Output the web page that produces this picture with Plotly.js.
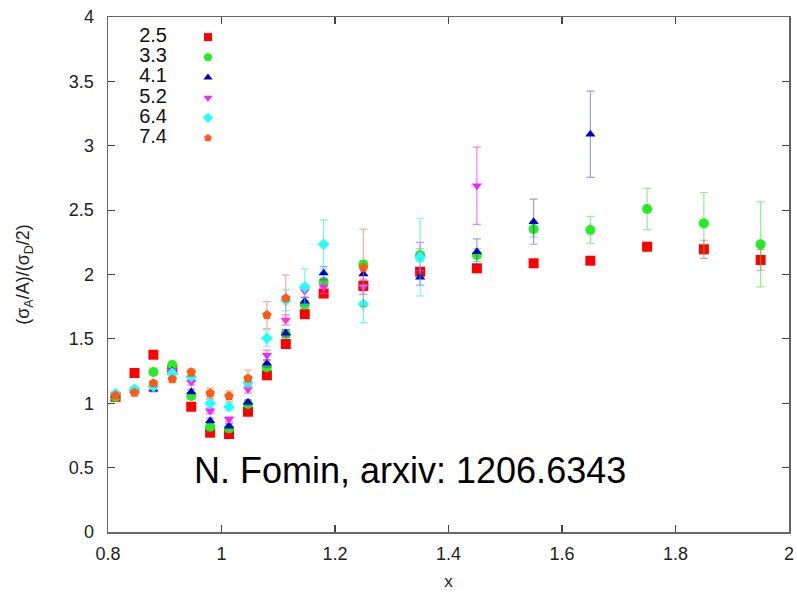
<!DOCTYPE html>
<html>
<head>
<meta charset="utf-8">
<script src="https://cdn.plot.ly/plotly-3.0.1.min.js"></script>
<style>html,body{margin:0;padding:0;background:#fff;}#chart{width:797px;height:595px;}</style>
</head>
<body>
<div id="chart"></div>
<script>
// ---- data ----
const seriesNames = ["2.5", "3.3", "4.1", "5.2", "6.4", "7.4"];

const x25 = [0.8133,0.8467,0.88,0.9133,0.9467,0.98,1.0133,1.0467,1.08,1.1133,1.1467,1.18,1.25,1.35,1.45,1.55,1.65,1.75,1.85,1.95];
const y25 = [1.05,1.235,1.377,1.258,0.973,0.771,0.761,0.934,1.217,1.46,1.692,1.852,1.911,2.022,2.048,2.087,2.107,2.216,2.196,2.113];
const e25 = [0.02,0.02,0.02,0.02,0.02,0.02,0.02,0.02,0.02,0.02,0.02,0.02,0.03,0.03,0.02,0.02,0.02,0.03,0.07,0.08];

const x33 = [0.8133,0.8467,0.88,0.9133,0.9467,0.98,1.0133,1.0467,1.08,1.1133,1.1467,1.18,1.25,1.35,1.45,1.55,1.65,1.75,1.85,1.95];
const y33 = [1.05,1.10,1.243,1.297,1.056,0.818,0.805,0.994,1.279,1.54,1.767,1.942,2.077,2.151,2.151,2.353,2.346,2.509,2.397,2.234];
const e33 = [0.02,0.02,0.02,0.02,0.02,0.02,0.02,0.02,0.02,0.03,0.03,0.03,0.03,0.05,0.05,0.06,0.105,0.16,0.24,0.33];

const x41 = [0.8133,0.8467,0.88,0.9133,0.9467,0.98,1.0133,1.0467,1.08,1.1133,1.1467,1.18,1.25,1.35,1.45,1.55,1.65];
const y41 = [1.06,1.10,1.108,1.25,1.09,0.865,0.823,1.007,1.31,1.543,1.792,2.012,2.004,1.978,2.177,2.41,3.089];
const e41 = [0.02,0.02,0.02,0.02,0.02,0.02,0.02,0.02,0.03,0.03,0.03,0.05,0.05,0.06,0.1,0.175,0.335];

const x52 = [0.8133,0.8467,0.88,0.9133,0.9467,0.98,1.0133,1.0467,1.08,1.1133,1.1467,1.18,1.25,1.35,1.45];
const y52 = [1.06,1.10,1.13,1.25,1.163,0.94,0.875,1.108,1.372,1.647,1.872,1.902,1.905,2.14,2.69];
const e52 = [0.02,0.02,0.02,0.02,0.02,0.02,0.02,0.03,0.04,0.04,0.05,0.05,0.06,0.11,0.3];

const x64 = [0.8133,0.8467,0.88,0.9133,0.9467,0.98,1.0133,1.0467,1.08,1.1133,1.1467,1.18,1.25,1.35];
const y64 = [1.075,1.108,1.13,1.232,1.206,1.0,0.973,1.16,1.504,1.80,1.903,2.234,1.771,2.133];
const e64 = [0.02,0.02,0.02,0.02,0.02,0.03,0.03,0.04,0.065,0.08,0.14,0.19,0.145,0.3];

const x74 = [0.8133,0.8467,0.88,0.9133,0.9467,0.98,1.0133,1.0467,1.08,1.1133,1.25];
const y74 = [1.06,1.082,1.155,1.186,1.24,1.077,1.056,1.193,1.685,1.815,2.053];
const e74 = [0.02,0.02,0.02,0.02,0.03,0.04,0.04,0.065,0.105,0.18,0.3];

const xTickVals = [0.8, 1, 1.2, 1.4, 1.6, 1.8, 2];
const yTickVals = [0, 0.5, 1, 1.5, 2, 2.5, 3, 3.5, 4];

// ---- styles ----
const FONT = "Liberation Sans, Arial, sans-serif";
const styles = [
  {color: "#ff0000", err: "rgba(230,60,60,0.55)",  symbol: "square",        size: 10},
  {color: "#22ee22", err: "rgba(60,220,60,0.55)",  symbol: "circle",        size: 10},
  {color: "#0000cc", err: "rgba(40,40,200,0.45)",  symbol: "triangle-up",   size: 9},
  {color: "#ff22ff", err: "rgba(230,40,230,0.6)",  symbol: "triangle-down", size: 9},
  {color: "#22ffff", err: "rgba(40,230,240,0.6)",  symbol: "diamond",       size: 9},
  {color: "#ff5a14", err: "rgba(240,110,60,0.55)", symbol: "pentagon",      size: 10}
];
const xs = [x25, x33, x41, x52, x64, x74];
const ys = [y25, y33, y41, y52, y64, y74];
const es = [e25, e33, e41, e52, e64, e74];

const traces = seriesNames.map((name, i) => ({
  type: "scatter", mode: "markers", name: name,
  x: xs[i], y: ys[i],
  error_y: {type: "data", array: es[i], visible: true, color: styles[i].err, thickness: 1.2, width: 4},
  marker: {color: styles[i].color, symbol: styles[i].symbol, size: styles[i].size, line: {width: 0}},
  showlegend: false, hoverinfo: "x+y+name"
}));

// key (label text then marker), built from the series names
const keyIdx = seriesNames.map((_, i) => i);
traces.push({
  type: "scatter", mode: "text", xaxis: "x2", yaxis: "y2",
  x: seriesNames.map(() => 0), y: keyIdx, text: seriesNames,
  textposition: "middle left", cliponaxis: false,
  textfont: {family: FONT, size: 20, color: "#111"},
  showlegend: false, hoverinfo: "skip"
});
traces.push({
  type: "scatter", mode: "markers", xaxis: "x2", yaxis: "y2",
  x: seriesNames.map(() => 1), y: keyIdx, cliponaxis: false,
  marker: {color: styles.map(s => s.color), symbol: styles.map(s => s.symbol), size: 8},
  showlegend: false, hoverinfo: "skip"
});

const axisCommon = {
  showgrid: false, zeroline: false, showline: true, linecolor: "#666", linewidth: 1.5,
  mirror: "ticks", ticks: "inside", ticklen: 7, tickwidth: 1.2, tickcolor: "#444",
  tickfont: {family: FONT, size: 18, color: "#222"}
};

const layout = {
  width: 797, height: 595,
  margin: {l: 108, r: 8, t: 17, b: 63},
  paper_bgcolor: "#fff", plot_bgcolor: "#fff",
  showlegend: false,
  xaxis: Object.assign({}, axisCommon, {
    range: [0.8, 2], tickmode: "array", tickvals: xTickVals, ticklabelstandoff: 5,
    title: {text: "x", font: {family: FONT, size: 17, color: "#222"}, standoff: 12}
  }),
  yaxis: Object.assign({}, axisCommon, {
    range: [0, 4], tickmode: "array", tickvals: yTickVals, ticklabelstandoff: 9,
    title: {text: "(σ<sub>A</sub>/A)/(σ<sub>D</sub>/2)", font: {family: FONT, size: 18, color: "#222"}, standoff: 34}
  }),
  xaxis2: {domain: [0.0866, 0.1468], range: [0, 1], visible: false, anchor: "y2", fixedrange: true},
  yaxis2: {domain: [0.765, 0.961], range: [5.0, 0], visible: false, anchor: "x2", fixedrange: true},
  annotations: [{
    text: "N. Fomin, arxiv: 1206.6343", xref: "paper", yref: "paper",
    x: 0.4435, y: 0.12, xanchor: "center", yanchor: "middle", showarrow: false,
    font: {family: FONT, size: 36, color: "#000"}
  }]
};

Plotly.newPlot("chart", traces, layout, {displayModeBar: false, staticPlot: true});
</script>
</body>
</html>
